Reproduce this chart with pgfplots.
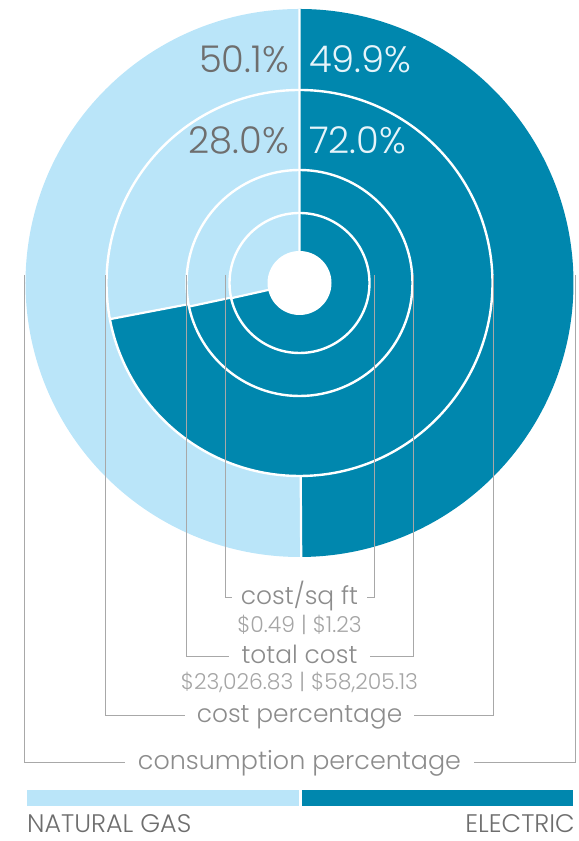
\documentclass[border=0pt]{standalone}
\usepackage{pgfplots}
\pgfplotsset{compat=1.18}
\usepackage{pgfplotstable}
\usepackage{fontspec}
\setmainfont{Poppins}[UprightFont=* Light]

\definecolor{gas}{HTML}{BAE5F9}
\definecolor{elec}{HTML}{0087AE}
\definecolor{lbl}{HTML}{6E6E6E}
\definecolor{sub}{HTML}{8C8C8C}
\definecolor{subv}{HTML}{A5A5A5}
\definecolor{lead}{HTML}{A8A8A8}
\definecolor{elbl}{HTML}{E6F4FA}

% rings, outer to inner: natural gas | electric
\pgfplotstableread{
ring  r    gas       elec
1     274  50.1      49.9
2     193  28.0      72.0
3     113  23026.83  58205.13
4     70   0.49      1.23
}\rings

\def\cx{299.5}
\def\cy{558}

\newcommand\getring[1]{%
  \pgfplotstablegetelem{#1}{r}\of\rings \edef\R{\pgfplotsretval}%
  \pgfplotstablegetelem{#1}{gas}\of\rings \edef\G{\pgfplotsretval}%
  \pgfplotstablegetelem{#1}{elec}\of\rings \edef\E{\pgfplotsretval}%
  \edef\A{\fpeval{90+360*\G/(\G+\E)}}%
}

\begin{document}
\begin{tikzpicture}
\begin{axis}[
    x=1bp, y=1bp,
    xmin=0, xmax=579, ymin=0, ymax=841,
    hide axis, clip=false,
  ]
  % rings
  \pgfplotsinvokeforeach{0,1,2,3}{
    \getring{#1}
    \edef\tmp{%
      \noexpand\fill[gas] (axis cs:\cx,\cy) -- ++(90:\R bp)
        arc[start angle=90, end angle=\A, radius=\R bp] -- cycle;
      \noexpand\fill[elec] (axis cs:\cx,\cy) -- ++(\A:\R bp)
        arc[start angle=\A, end angle=450, radius=\R bp] -- cycle;
      \noexpand\draw[white, line width=2.2bp] (axis cs:\cx,\cy) -- ++(90:\R bp)
        (axis cs:\cx,\cy) -- ++(\A:\R bp);
    }\tmp
  }
  \pgfplotsinvokeforeach{1,2,3}{
    \getring{#1}
    \edef\tmp{\noexpand\draw[white, line width=2.4bp] (axis cs:\cx,\cy) circle[radius=\R bp];}\tmp
  }
  \fill[white] (axis cs:\cx,\cy) circle[radius=32bp];

  % percentages
  \node[anchor=base east, inner sep=0, text=lbl, font=\fontsize{37}{40}\selectfont] at (axis cs:289,768) {50.1\%};
  \node[anchor=base west, inner sep=0, text=elbl, font=\fontsize{37}{40}\selectfont] at (axis cs:309,768) {49.9\%};
  \node[anchor=base east, inner sep=0, text=lbl, font=\fontsize{37}{40}\selectfont] at (axis cs:289,687) {28.0\%};
  \node[anchor=base west, inner sep=0, text=elbl, font=\fontsize{37}{40}\selectfont] at (axis cs:309,687) {72.0\%};

  % ring labels
  \node[name=l4, anchor=base, inner xsep=9bp, inner ysep=0, text=sub, font=\fontsize{25}{28}\selectfont] at (axis cs:\cx,236) {cost/sq ft};
  \node[anchor=base, inner sep=0, text=subv, font=\fontsize{22}{24}\selectfont] at (axis cs:\cx,208) {\$0.49 | \$1.23};
  \node[name=l3, anchor=base, inner xsep=12bp, inner ysep=0, text=sub, font=\fontsize{25}{28}\selectfont] at (axis cs:\cx,177) {total cost};
  \node[anchor=base, inner sep=0, text=subv, font=\fontsize{22}{24}\selectfont] at (axis cs:\cx,151) {\$23,026.83 | \$58,205.13};
  \node[name=l2, anchor=base, inner xsep=12bp, inner ysep=0, text=sub, font=\fontsize{25}{28}\selectfont] at (axis cs:\cx,118) {cost percentage};
  \node[name=l1, anchor=base, inner xsep=13bp, inner ysep=0, text=sub, font=\fontsize{25.5}{28}\selectfont] at (axis cs:\cx,71) {consumption percentage};

  % leader lines
  \draw[lead, line width=1bp] (axis cs:225,566) |- ([yshift=7bp]l4.base west);
  \draw[lead, line width=1bp] (axis cs:374,566) |- ([yshift=7bp]l4.base east);
  \draw[lead, line width=1bp] (axis cs:186,566) |- ([yshift=7bp]l3.base west);
  \draw[lead, line width=1bp] (axis cs:413,566) |- ([yshift=7bp]l3.base east);
  \draw[lead, line width=1bp] (axis cs:105.5,566) |- ([yshift=7bp]l2.base west);
  \draw[lead, line width=1bp] (axis cs:493.5,566) |- ([yshift=7bp]l2.base east);
  \draw[lead, line width=1bp] (axis cs:24.5,566) |- ([yshift=7bp]l1.base west);
  \draw[lead, line width=1bp] (axis cs:575,566) |- ([yshift=7bp]l1.base east);

  % legend
  \fill[gas] (axis cs:27,35) rectangle (axis cs:299,51);
  \fill[elec] (axis cs:302,35) rectangle (axis cs:573,51);
  \node[anchor=base west, inner sep=0, text=lbl, font=\fontsize{25.5}{30}\selectfont] at (axis cs:27,8) {NATURAL GAS};
  \node[anchor=base east, inner sep=0, text=lbl, font=\fontsize{25.5}{30}\selectfont] at (axis cs:575,8) {ELECTRIC};
\end{axis}
\pgfresetboundingbox
\path (current axis.south west) rectangle (current axis.north east);
\end{tikzpicture}
\end{document}
